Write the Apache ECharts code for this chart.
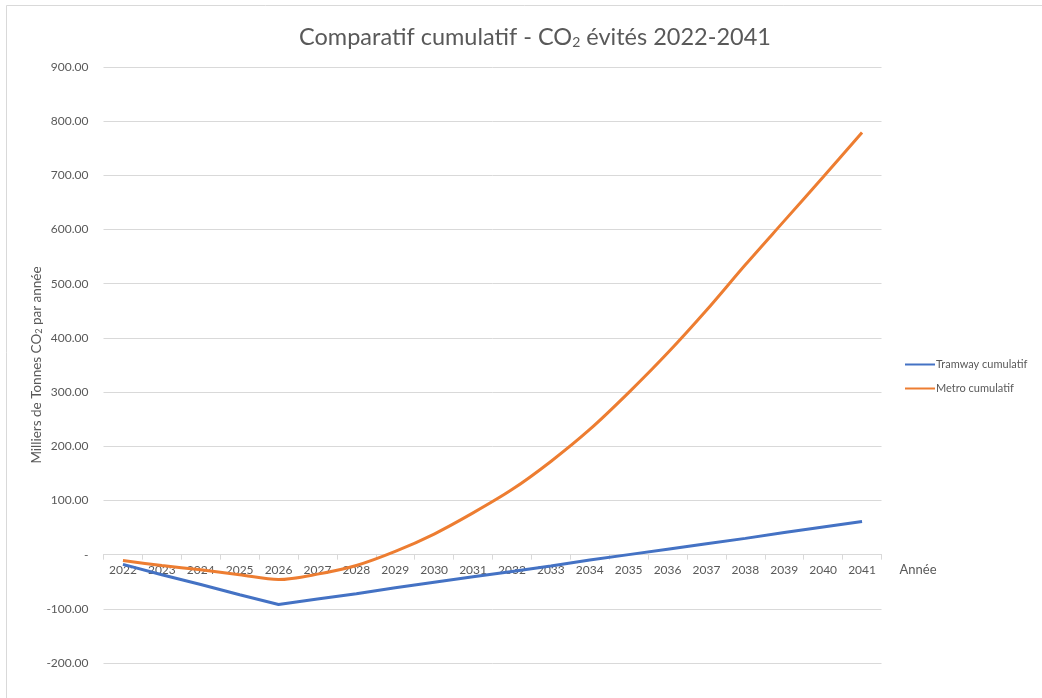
<!DOCTYPE html>
<html>
<head>
<meta charset="utf-8">
<script src="https://cdn.jsdelivr.net/npm/echarts@6/dist/echarts.min.js"></script>
<style>
html,body{margin:0;padding:0;background:#fff;}
#chart{width:1042px;height:698px;}
</style>
</head>
<body>
<div id="chart"></div>
<script>
const years = ['2022','2023','2024','2025','2026','2027','2028','2029','2030','2031','2032','2033','2034','2035','2036','2037','2038','2039','2040','2041'];
const tramway = [-18,-37,-55,-74,-92,-82,-72,-61,-51,-41,-31,-21,-10,0,10,20,30,41,51,61];
const metro = [-11,-20,-28,-37,-46,-36,-20,6,38,77,120,172,231,299,372,451,535,616,697,779];
const seriesNames = ['Tramway cumulatif','Metro cumulatif'];
const titleText = 'Comparatif cumulatif - CO{sub|2} évités 2022-2041';
const yName = 'Milliers de Tonnes CO{sub|2} par année';
const xName = 'Année';
const yMin = -200, yMax = 900;

const FONT = 'Lato';
const TXT = '#595959';
const GRID_TOP = 67, GRID_BOTTOM = 35, H = 698;
const plotH = H - GRID_TOP - GRID_BOTTOM;
const chart = echarts.init(document.getElementById('chart'), null, {renderer:'canvas'});
chart.setOption({
  animation:false,
  backgroundColor:'#fff',
  textStyle:{fontFamily:FONT},
  graphic:[{type:'rect',shape:{x:6.5,y:5.5,width:1200,height:900},style:{fill:'none',stroke:'#d9d9d9',lineWidth:1},silent:true}],
  title:{
    text:titleText,
    left:530, textAlign:'center', top:20,
    textStyle:{fontFamily:FONT,fontSize:23.5,fontWeight:'normal',color:TXT,
      rich:{sub:{fontFamily:FONT,fontSize:14,color:TXT,verticalAlign:'bottom'}}}
  },
  legend:{
    orient:'vertical', left:900, top:354, itemWidth:30, itemHeight:10, itemGap:13,
    icon:'path://M0,4 L30,4 L30,6 L0,6 Z',
    textStyle:{fontFamily:FONT,fontSize:11,color:TXT,padding:[0,0,0,-4]},
    data:seriesNames
  },
  grid:{left:103.5,right:160.5,top:GRID_TOP,bottom:GRID_BOTTOM,containLabel:false},
  xAxis:{
    type:'category', data:years, boundaryGap:true, position:'bottom',
    offset: -plotH * (0 - yMin) / (yMax - yMin),
    name:xName, nameLocation:'end', nameGap:18,
    nameTextStyle:{fontFamily:FONT,fontSize:13,color:TXT,verticalAlign:'top',padding:[9,0,0,0]},
    axisLine:{onZero:false,lineStyle:{color:'#d9d9d9',width:1}},
    axisTick:{show:true,length:5,lineStyle:{color:'#d9d9d9'}},
    axisLabel:{fontFamily:FONT,fontSize:12,color:TXT,margin:9,interval:0}
  },
  yAxis:{
    type:'value', min:yMin, max:yMax, interval:100,
    name:yName, nameLocation:'middle', nameGap:60, nameMoveOverlap:false,
    nameTextStyle:{fontFamily:FONT,fontSize:13.5,color:TXT,
      rich:{sub:{fontFamily:FONT,fontSize:9,color:TXT,verticalAlign:'bottom'}}},
    axisLine:{show:false}, axisTick:{show:false},
    splitLine:{lineStyle:{color:'#d9d9d9',width:1}},
    axisLabel:{fontFamily:FONT,fontSize:12,color:TXT,margin:15,
      formatter:function(v){return v===0?'-':v.toFixed(2);}}
  },
  series:[
    {name:seriesNames[0],type:'line',data:tramway,symbol:'none',smooth:false,
     lineStyle:{color:'#4472C4',width:3},itemStyle:{color:'#4472C4'},z:3},
    {name:seriesNames[1],type:'line',data:metro,symbol:'none',smooth:0.3,
     lineStyle:{color:'#ED7D31',width:3},itemStyle:{color:'#ED7D31'},z:2}
  ]
});
</script>
</body>
</html>
